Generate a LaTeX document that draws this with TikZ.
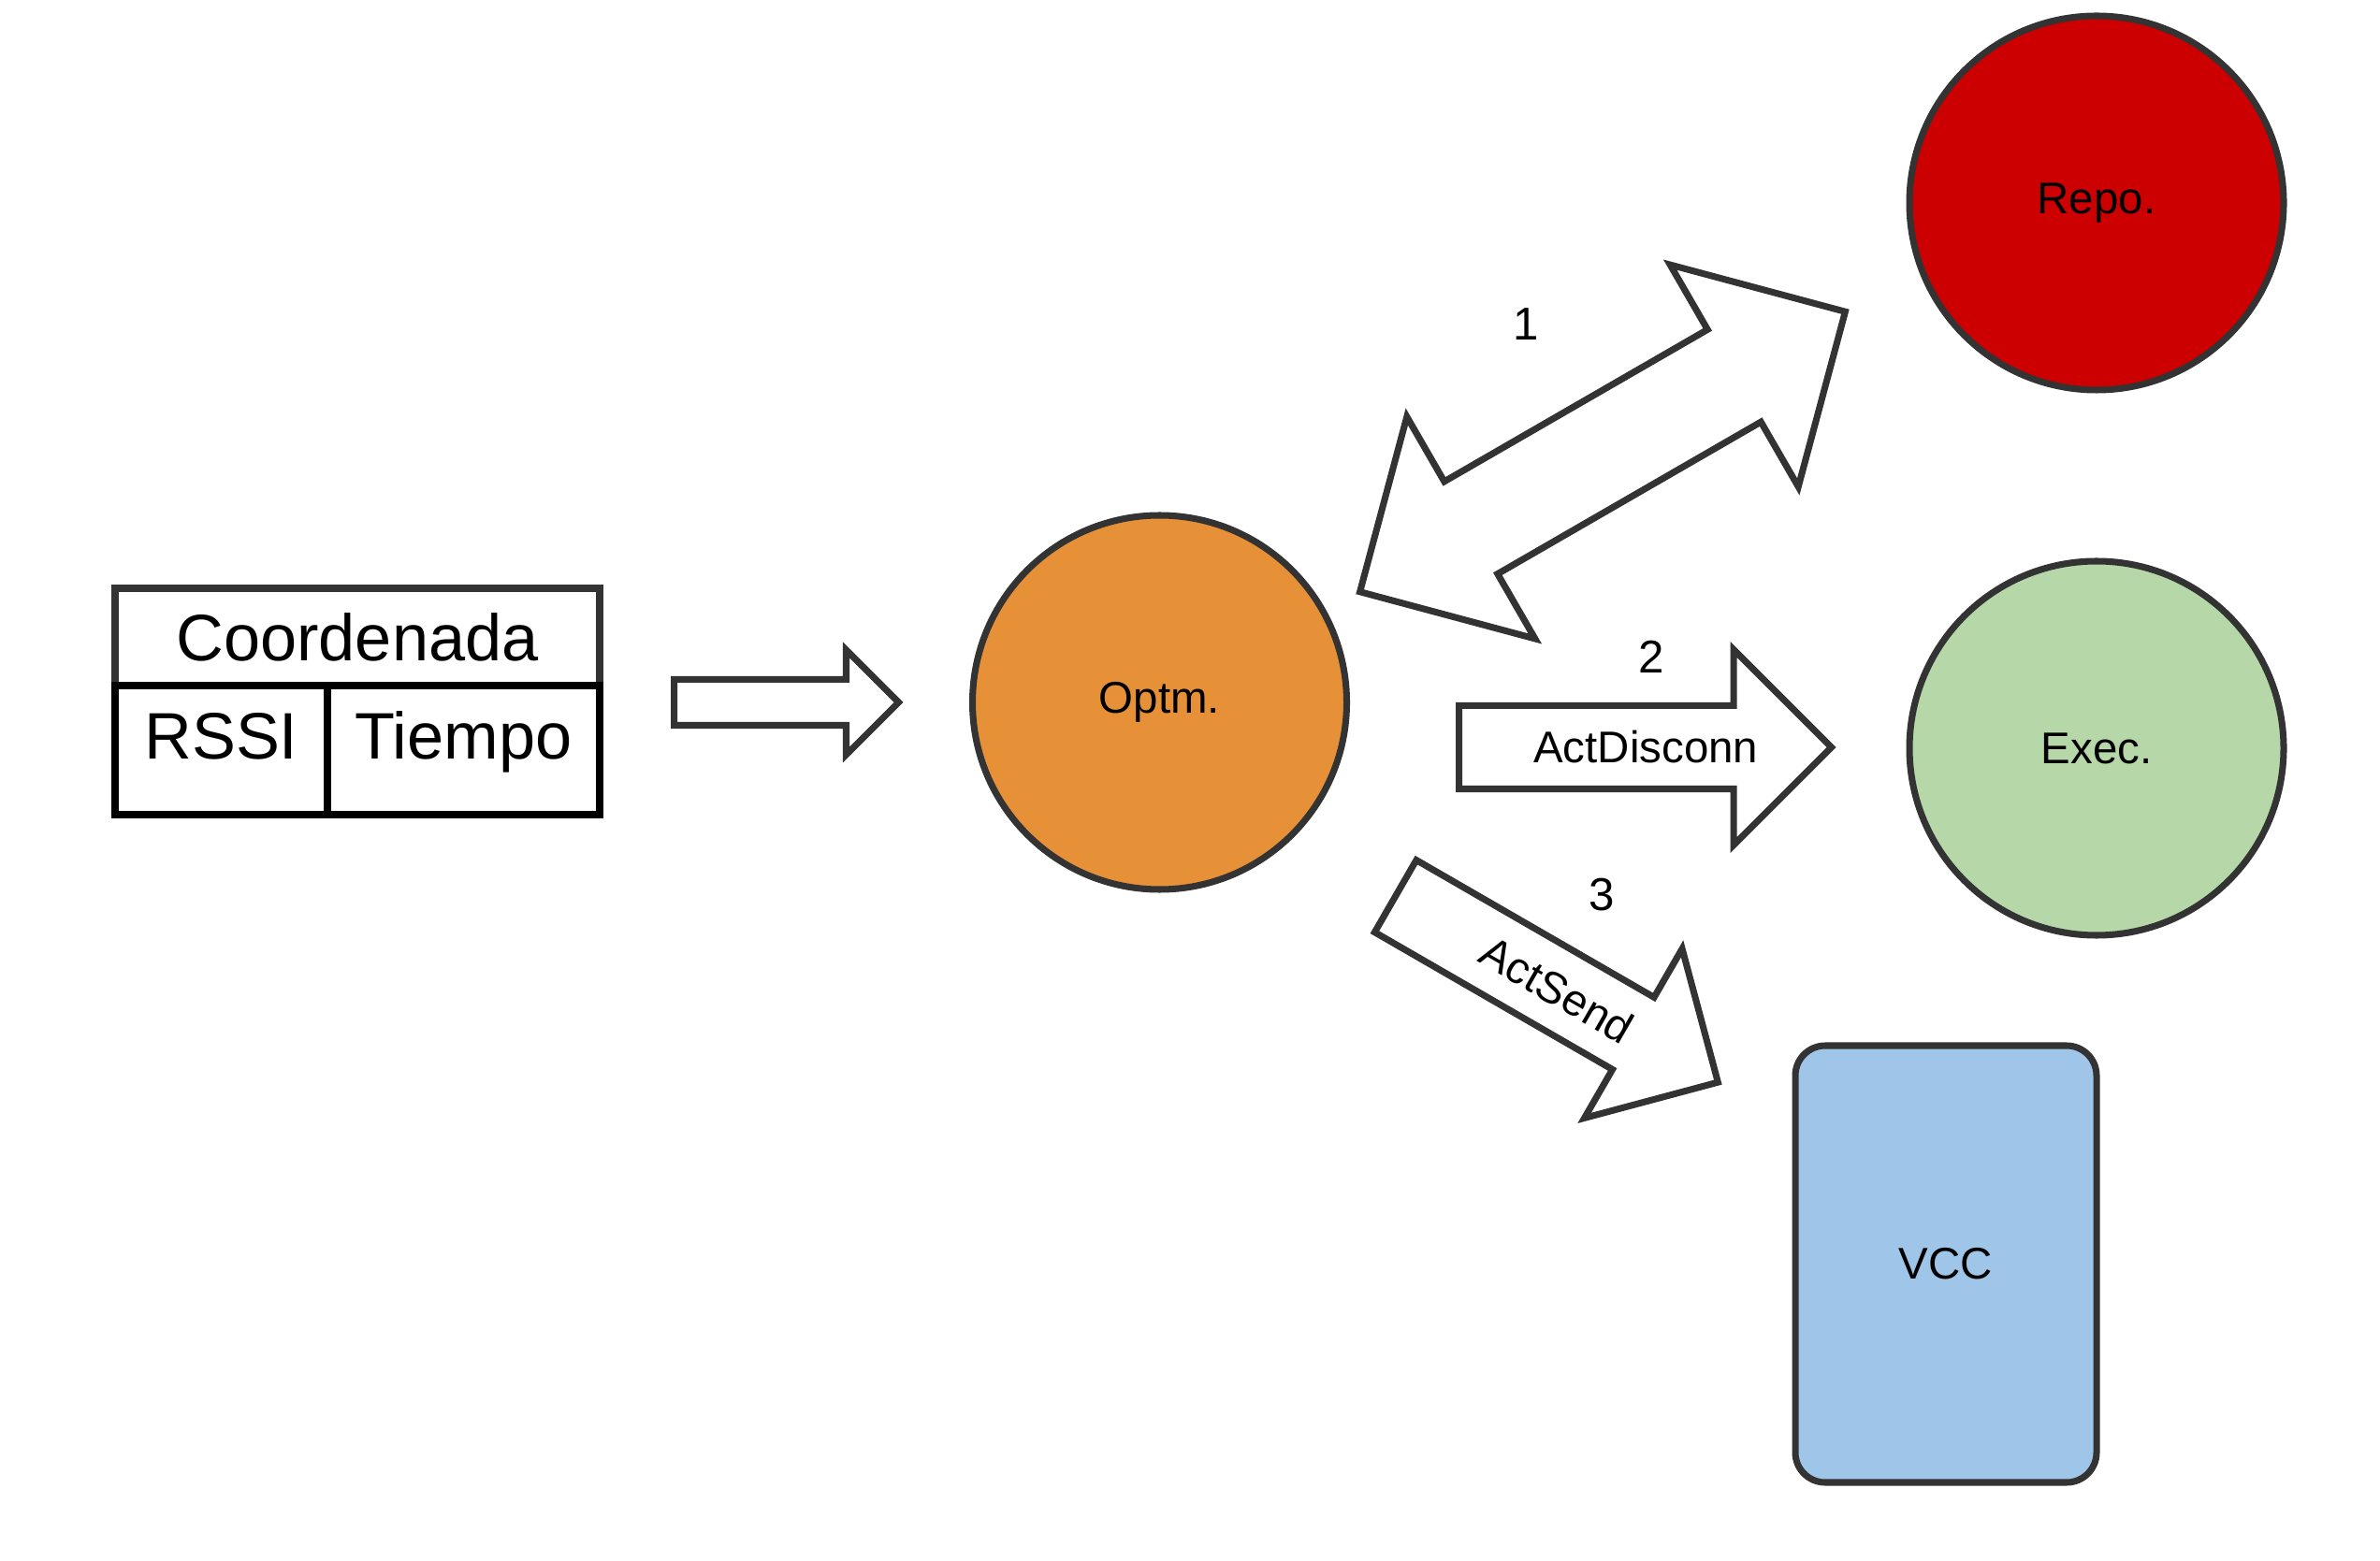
\documentclass[tikz,border=0pt]{standalone}
\usepackage{fontspec}
\setmainfont{Liberation Sans}
\usepackage{xcolor}
\usetikzlibrary{shapes.arrows, math}
\definecolor{qgray}{HTML}{333333}
\definecolor{qorange}{HTML}{E69138}
\definecolor{qred}{HTML}{CC0000}
\definecolor{qgreen}{HTML}{B6D7A8}
\definecolor{qblue}{HTML}{9FC5E8}

\tikzset{
  cell/.style={draw=black, line width=2pt, inner sep=0pt, outer sep=0pt, font=\fontsize{20}{24}\selectfont},
  bubble/.style={circle, draw=qgray, line width=2pt, inner sep=0pt, font=\fontsize{13.5}{16}\selectfont},
  fatarrow/.style={single arrow, draw=qgray, line width=2pt, fill=white, inner xsep=0pt},
  tag/.style={font=\fontsize{13.5}{16}\selectfont, inner sep=0pt},
  num/.style={font=\fontsize{14}{16}\selectfont},
}

\begin{document}
\begin{tikzpicture}
\tikzmath{
\rad=2;
\len=3.98;
\wid=2.02;
}
\useasboundingbox (0,0) rectangle (25.44,16.68);

%table:
\node[cell, draw=qgray, minimum width=5.18cm, minimum height=1.04cm] (coord) at (3.82,9.87) {Coordenada};
\node[cell, anchor=north west, minimum width=2.27cm, text height=0.79cm, text depth=0.59cm] (rssi) at (coord.south west) {RSSI};
\node[cell, anchor=north west, minimum width=2.91cm, text height=0.79cm, text depth=0.59cm] (tiempo) at (rssi.north east) {Tiempo};

%agents
\node[bubble, fill=qorange, minimum size=2*\rad*1cm] (optm) at (12.395,9.17) {Optm.};
\node[bubble, fill=qred, minimum size=2*\rad*1cm] (repo) at (22.41,14.51) {Repo.};
\node[bubble, fill=qgreen, minimum size=2*\rad*1cm] (exec) at (22.41,8.68) {Exec.};
\node[draw=qgray, line width=2pt, fill=qblue, rounded corners=0.32cm, minimum width=3.22cm, minimum height=4.67cm, font=\fontsize{13.5}{16}\selectfont] (vcc) at (20.80,3.165) {VCC};

%hollow arrows
\node[fatarrow, anchor=tail, inner ysep=0.21cm, minimum height=2.40cm, minimum width=1.05cm, single arrow head extend=0.315cm] (feed) at (7.17,9.17) {};
\node[fatarrow, double arrow, rotate=30, inner ysep=0.535cm, minimum height=5.99cm, minimum width=2.675cm, double arrow head extend=0.8cm] (sync) at (17.13,11.85) {};
\node[fatarrow, anchor=tail, inner ysep=0.41cm, minimum height=\len*1cm, minimum width=\wid*1cm, single arrow head extend=0.6cm] (disc) at (15.56,8.69) {};
\node[fatarrow, anchor=tail, rotate=-30, inner ysep=0.41cm, minimum height=\len*1cm, minimum width=\wid*1cm, single arrow head extend=0.6cm] (send) at (14.886,7.116) {};
\path (disc.tail) -- (disc.tip) node[midway, tag] (discl) {ActDisconn};
\path (send.tail) -- (send.tip) node[midway, sloped, tag] (sendl) {ActSend};

%steps
\node[num] (n1) at (16.31,13.21) {1};
\node[num] (n2) at (17.65,9.655) {2};
\node[num] (n3) at (17.12,7.11) {3};
\end{tikzpicture}
\end{document}
